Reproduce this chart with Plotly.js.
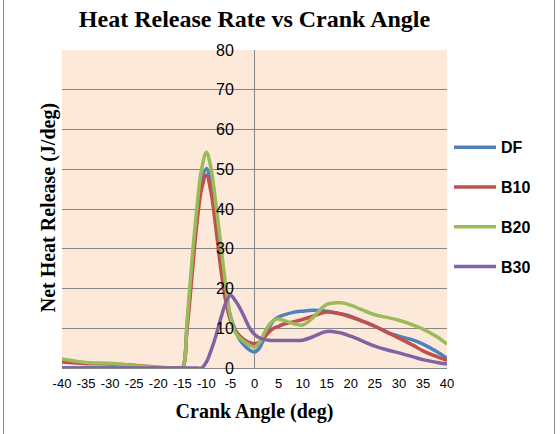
<!DOCTYPE html>
<html>
<head>
<meta charset="utf-8">
<script src="https://cdn.plot.ly/plotly-3.0.1.min.js"></script>
<style>
html,body{margin:0;padding:0;background:#fff;}
#wrap{position:relative;width:560px;height:434px;}
#chart{width:560px;height:434px;}
#frame{position:absolute;left:3px;top:-2px;width:552px;height:437px;border:1px solid #8c8c8c;pointer-events:none;box-sizing:border-box;}
</style>
</head>
<body>
<div id="wrap"><div id="chart"></div><div id="frame"></div></div>
<script>
// Crank angle (deg)
const crankAngle = [-40,-35,-30,-25,-20,-16,-15,-14,-13,-12,-11,-10,-9,-8,-7,-6,-5,-4,-3,-2,-1,0,1,2,3,4,5,6,8,10,12,15,18,20,22,25,28,30,33,35,38,40];
// Net heat release (J/deg)
const dfValues  = [0,0,0,0,0,0,0,11,25,38,47,50.2,46,38,28,19,13,9.5,7,5.5,4.5,4,5,7.5,10,12,12.8,13.3,14,14.3,14.5,14.3,13.6,13,12,10.5,8.8,8,7,6,4,2.4];
const b10Values = [1.5,1.1,1,0.7,0.2,0,0,10,23,36,45,48.5,44,35,25,17,12,9.5,8,7,6.4,6.1,6.5,7.7,9,10,10.5,11,11.6,12.2,13,14.1,13.6,12.8,12,10.5,8.7,7.5,5.7,4.3,2.8,1.9];
const b20Values = [2.3,1.4,1.2,0.6,0.1,0,0,12,27,40,50,54.3,50,41,31,21,13,9,7.5,6.5,5.7,5.3,6.3,8.7,10.8,12,12.3,12,11.2,10.8,12.5,16,16.4,15.8,14.8,13.4,12.6,12,10.8,9.8,7.8,6];
const b30Values = [0,0,0,0,0,0,0,0,0,0,0,1.5,4.5,8.2,12.5,16.3,18.3,17,15,12.5,10,8.5,7.6,7.2,7,6.9,6.9,6.9,6.9,7,7.8,9.2,8.8,8,7,5.5,4.4,3.8,2.8,2.1,1.4,1];
const seriesNames = ['DF','B10','B20','B30'];
const xTickVals = [-40,-35,-30,-25,-20,-15,-10,-5,0,5,10,15,20,25,30,35,40];
const yTickVals = [0,10,20,30,40,50,60,70,80];

const colors = ['#4F81BD','#C0504D','#9BBB59','#8064A2'];
const allValues = [dfValues,b10Values,b20Values,b30Values];
const traces = allValues.map((v,i)=>({
  x: crankAngle, y: v, name: seriesNames[i], type:'scatter', mode:'lines',
  legendgroup: 'g'+i,
  line:{color:colors[i], width:3.5, shape:'spline', smoothing:1}
}));

const tickFont = {family:'Liberation Sans, Arial, sans-serif', size:16, color:'#000'};
const yLabels = yTickVals.map(v=>({text:String(v), xref:'x', yref:'y', x:0, y:v, xanchor:'right', yanchor:'middle',
  xshift:-19, showarrow:false, font:tickFont}));

const layout = {
  width:560, height:434,
  margin:{l:62, r:113, t:50, b:66},
  paper_bgcolor:'#ffffff', plot_bgcolor:'#FDE9D9',
  title:{text:'Heat Release Rate vs Crank Angle', x:0.5, xref:'paper', y:1-19/434, yref:'container', yanchor:'middle',
    font:{family:'Liberation Serif, Times New Roman, serif', size:24, color:'#000', weight:'bold'}},
  xaxis:{range:[-40,40], tickvals:xTickVals, ticktext:xTickVals.map(String), showgrid:false,
    zeroline:true, zerolinecolor:'#868686', zerolinewidth:1,
    showline:true, linecolor:'#868686', linewidth:1, ticks:'', ticklabelstandoff:3,
    tickfont:{family:'Liberation Sans, Arial, sans-serif', size:13, color:'#000'},
    title:{text:'Crank Angle (deg)', standoff:14, font:{family:'Liberation Serif, Times New Roman, serif', size:20, color:'#000', weight:'bold'}}},
  yaxis:{range:[0,80], tickvals:yTickVals, showgrid:true, gridcolor:'#868686', gridwidth:1,
    zeroline:false, showline:false, ticks:'', showticklabels:false, title:{text:''}},
  annotations:[{text:'Net Heat Release (J/deg)', xref:'paper', yref:'paper', x:(48-62)/385, y:(367.7-208)/318, textangle:-90,
    showarrow:false, xanchor:'center', yanchor:'middle',
    font:{family:'Liberation Serif, Times New Roman, serif', size:20, color:'#000', weight:'bold'}}].concat(yLabels),
  legend:{x:(449-62)/385, xanchor:'left', y:(367.7-130)/318, yanchor:'top', traceorder:'grouped', tracegroupgap:16, itemwidth:42,
    bgcolor:'rgba(0,0,0,0)', font:{family:'Liberation Sans, Arial, sans-serif', size:16, color:'#000', weight:'bold'}},
  showlegend:true
};
Plotly.newPlot('chart', traces, layout, {displayModeBar:false, staticPlot:true});
</script>
</body>
</html>
